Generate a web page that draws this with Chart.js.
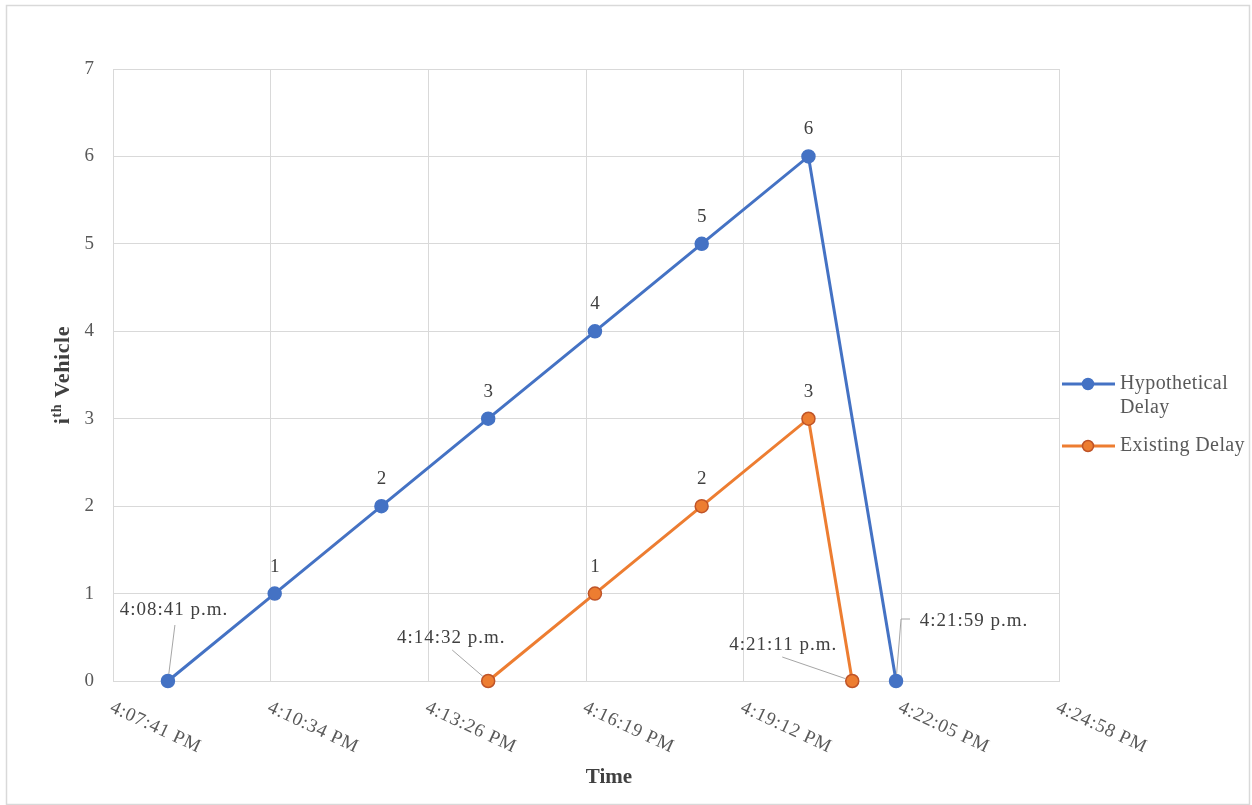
<!DOCTYPE html>
<html>
<head>
<meta charset="utf-8">
<title>Vehicle delay over time</title>
<script src="https://cdn.jsdelivr.net/npm/chart.js@4.4.1/dist/chart.umd.min.js"></script>
<style>
  html, body { margin: 0; padding: 0; background: #ffffff; }
  #wrap { width: 1252px; height: 805px; position: relative; }
</style>
</head>
<body>
<div id="wrap"><canvas id="chart" width="1252" height="805"></canvas></div>
<script>
// ---- Data -------------------------------------------------------------
const seriesNames = ['Hypothetical Delay', 'Existing Delay'];

// Arrival times (24h clock) and the vehicle count at each time
const hypoTimes  = ['16:08:41', '16:10:38', '16:12:35', '16:14:32', '16:16:29', '16:18:26', '16:20:23', '16:21:59'];
const hypoValues = [0, 1, 2, 3, 4, 5, 6, 0];

const existTimes  = ['16:14:32', '16:16:29', '16:18:26', '16:20:23', '16:21:11'];
const existValues = [0, 1, 2, 3, 0];

// Time axis: Excel-style day fractions, 0.672 .. 0.684 in steps of 0.002
const xTickLabels = ['4:07:41 PM', '4:10:34 PM', '4:13:26 PM', '4:16:19 PM', '4:19:12 PM', '4:22:05 PM', '4:24:58 PM'];
const axisStartDay = 0.672;
const axisStepDay = 0.002;
const yTickValues = [0, 1, 2, 3, 4, 5, 6, 7];

// ---- Helpers ----------------------------------------------------------
const DAY = 86400;
function toSec(t) {
  const [h, m, s] = t.split(':').map(Number);
  return h * 3600 + m * 60 + s;
}
function toClockLabel(t) {
  const [h, m, s] = t.split(':').map(Number);
  const hh = h > 12 ? h - 12 : h;
  return hh + ':' + String(m).padStart(2, '0') + ':' + String(s).padStart(2, '0') + ' ' + (h >= 12 ? 'p.m.' : 'a.m.');
}

const xMin = axisStartDay * DAY;
const xStep = axisStepDay * DAY;
const xMax = xMin + xStep * (xTickLabels.length - 1);

const SERIF = "'Liberation Serif', 'Times New Roman', serif";
const BLUE = '#4472C4';
const ORANGE = '#ED7D31';
const ORANGE_EDGE = '#BF5428';

// Callout placement for the zero points (text centre and leader start, px from the point)
const calloutStyle = {
  '0-0': { tx: 6,   ty: -71, lx: 7,   ly: -56 },
  '1-0': { tx: -37, ty: -43, lx: -36, ly: -31 },
  '1-4': { tx: -69, ty: -36, lx: -70, ly: -24 },
  '0-7': { tx: 78,  ty: -60, lx: 5,   ly: -62, ex: 14 }
};
const callTimes = [hypoTimes, existTimes];

// ---- Drawing plugin: frame, rotated time ticks, titles, labels, legend --
const decorations = {
  id: 'decorations',
  beforeDraw(chart) {
    const ctx = chart.ctx;
    ctx.save();
    ctx.fillStyle = '#ffffff';
    ctx.fillRect(0, 0, chart.width, chart.height);
    ctx.strokeStyle = '#d9d9d9';
    ctx.lineWidth = 1.5;
    ctx.strokeRect(6.5, 5.5, chart.width - 9, chart.height - 6);
    ctx.restore();
  },
  afterDraw(chart) {
    const ctx = chart.ctx;
    const area = chart.chartArea;
    const xs = chart.scales.x;
    ctx.save();

    // Rotated time tick labels
    ctx.font = '19px ' + SERIF;
    ctx.letterSpacing = '0.8px';
    ctx.fillStyle = '#595959';
    ctx.textAlign = 'left';
    ctx.textBaseline = 'top';
    xs.ticks.forEach((t, i) => {
      const px = xs.getPixelForValue(t.value);
      ctx.save();
      ctx.translate(px + 2, area.bottom + 17);
      ctx.rotate(25 * Math.PI / 180);
      ctx.fillText(xTickLabels[i], 0, 0);
      ctx.restore();
    });
    ctx.letterSpacing = '0px';

    // X axis title
    ctx.font = 'bold 21px ' + SERIF;
    ctx.fillStyle = '#404040';
    ctx.textAlign = 'center';
    ctx.textBaseline = 'middle';
    ctx.fillText('Time', (area.left + area.right) / 2 + 23, 778);

    // Y axis title with superscript
    ctx.save();
    ctx.translate(62, (area.top + area.bottom) / 2);
    ctx.rotate(-Math.PI / 2);
    ctx.textAlign = 'left';
    ctx.textBaseline = 'alphabetic';
    const big = 'bold 22px ' + SERIF, small = 'bold 14px ' + SERIF;
    ctx.letterSpacing = '0.6px';
    ctx.font = big; const w1 = ctx.measureText('i').width;
    ctx.font = small; const w2 = ctx.measureText('th').width;
    ctx.font = big; const w3 = ctx.measureText(' Vehicle').width;
    let x0 = -(w1 + w2 + w3) / 2;
    const base = 7;
    ctx.font = big; ctx.fillText('i', x0, base); x0 += w1;
    ctx.font = small; ctx.fillText('th', x0, base - 8); x0 += w2;
    ctx.font = big; ctx.fillText(' Vehicle', x0, base);
    ctx.letterSpacing = '0px';
    ctx.restore();

    // Point labels and callouts
    chart.data.datasets.forEach((ds, di) => {
      const meta = chart.getDatasetMeta(di);
      meta.data.forEach((pt, pi) => {
        const v = ds.data[pi].y;
        if (v !== 0) {
          ctx.font = '19px ' + SERIF;
          ctx.fillStyle = '#404040';
          ctx.textAlign = 'center';
          ctx.textBaseline = 'middle';
          ctx.fillText(String(v), pt.x, pt.y - 27);
          return;
        }
        const c = calloutStyle[di + '-' + pi];
        if (!c) return;
        // leader line
        ctx.strokeStyle = '#a6a6a6';
        ctx.lineWidth = 1;
        const sx = pt.x + c.lx, sy = pt.y + c.ly;
        const dx = pt.x - sx, dy = pt.y - sy;
        const len = Math.hypot(dx, dy);
        const ex = pt.x - dx / len * 7, ey = pt.y - dy / len * 7;
        ctx.beginPath();
        if (c.ex !== undefined) ctx.moveTo(pt.x + c.ex, sy);
        else ctx.moveTo(sx, sy);
        ctx.lineTo(sx, sy);
        ctx.lineTo(ex, ey);
        ctx.stroke();
        // text
        ctx.font = '19px ' + SERIF;
        ctx.letterSpacing = '1px';
        ctx.fillStyle = '#404040';
        ctx.textAlign = 'center';
        ctx.textBaseline = 'middle';
        ctx.fillText(toClockLabel(callTimes[di][pi]), pt.x + c.tx, pt.y + c.ty);
        ctx.letterSpacing = '0px';
      });
    });

    // Legend on the right
    const legendX = area.right + 3;
    const legendYs = [384, 446];
    chart.data.datasets.forEach((ds, di) => {
      const y = legendYs[di];
      ctx.strokeStyle = ds.borderColor;
      ctx.lineWidth = 3;
      ctx.beginPath();
      ctx.moveTo(legendX, y);
      ctx.lineTo(legendX + 53, y);
      ctx.stroke();
      ctx.beginPath();
      ctx.arc(legendX + 26, y, 5.5, 0, Math.PI * 2);
      ctx.fillStyle = ds.pointBackgroundColor;
      ctx.fill();
      ctx.lineWidth = 1.5;
      ctx.strokeStyle = ds.pointBorderColor;
      ctx.stroke();

      ctx.font = '20px ' + SERIF;
      ctx.letterSpacing = '0.4px';
      ctx.fillStyle = '#595959';
      ctx.textAlign = 'left';
      ctx.textBaseline = 'middle';
      // wrap legend text into lines that fit the legend column
      const words = ds.label.split(' ');
      const lines = [];
      let line = '';
      words.forEach(w => {
        const test = line ? line + ' ' + w : w;
        if (ctx.measureText(test).width > 132 && line) { lines.push(line); line = w; }
        else line = test;
      });
      lines.push(line);
      lines.forEach((l, li) => ctx.fillText(l, legendX + 58, y + li * 24));
      ctx.letterSpacing = '0px';
    });

    ctx.restore();
  }
};

// ---- Chart --------------------------------------------------------------
new Chart(document.getElementById('chart'), {
  type: 'line',
  data: {
    datasets: [
      {
        label: seriesNames[0],
        data: hypoTimes.map((t, i) => ({ x: toSec(t), y: hypoValues[i] })),
        borderColor: BLUE,
        backgroundColor: BLUE,
        pointBackgroundColor: BLUE,
        pointBorderColor: BLUE,
        borderWidth: 3,
        pointRadius: 6.5,
        pointBorderWidth: 1.5,
        tension: 0,
        clip: false
      },
      {
        label: seriesNames[1],
        data: existTimes.map((t, i) => ({ x: toSec(t), y: existValues[i] })),
        borderColor: ORANGE,
        backgroundColor: ORANGE,
        pointBackgroundColor: ORANGE,
        pointBorderColor: ORANGE_EDGE,
        borderWidth: 3,
        pointRadius: 6.5,
        pointBorderWidth: 1.5,
        tension: 0,
        clip: false
      }
    ]
  },
  options: {
    responsive: false,
    animation: false,
    devicePixelRatio: 1,
    layout: { autoPadding: false, padding: { left: 53, top: 69, right: 193, bottom: 124 } },
    plugins: { legend: { display: false }, tooltip: { enabled: false } },
    scales: {
      x: {
        type: 'linear',
        min: xMin,
        max: xMax,
        afterBuildTicks(scale) {
          scale.ticks = xTickLabels.map((_, i) => ({ value: xMin + i * xStep }));
        },
        afterFit(scale) { scale.height = 0; },
        ticks: { display: false },
        grid: { color: '#d9d9d9', lineWidth: 1, drawTicks: false },
        border: { color: '#d9d9d9', width: 1 }
      },
      y: {
        min: yTickValues[0],
        max: yTickValues[yTickValues.length - 1],
        afterBuildTicks(scale) {
          scale.ticks = yTickValues.map(v => ({ value: v }));
        },
        afterFit(scale) { scale.width = 60; },
        ticks: {
          font: { family: SERIF, size: 19 },
          color: '#595959',
          padding: 19
        },
        grid: { color: '#d9d9d9', lineWidth: 1, drawTicks: false },
        border: { color: '#d9d9d9', width: 1 }
      }
    }
  },
  plugins: [decorations]
});
</script>
</body>
</html>
